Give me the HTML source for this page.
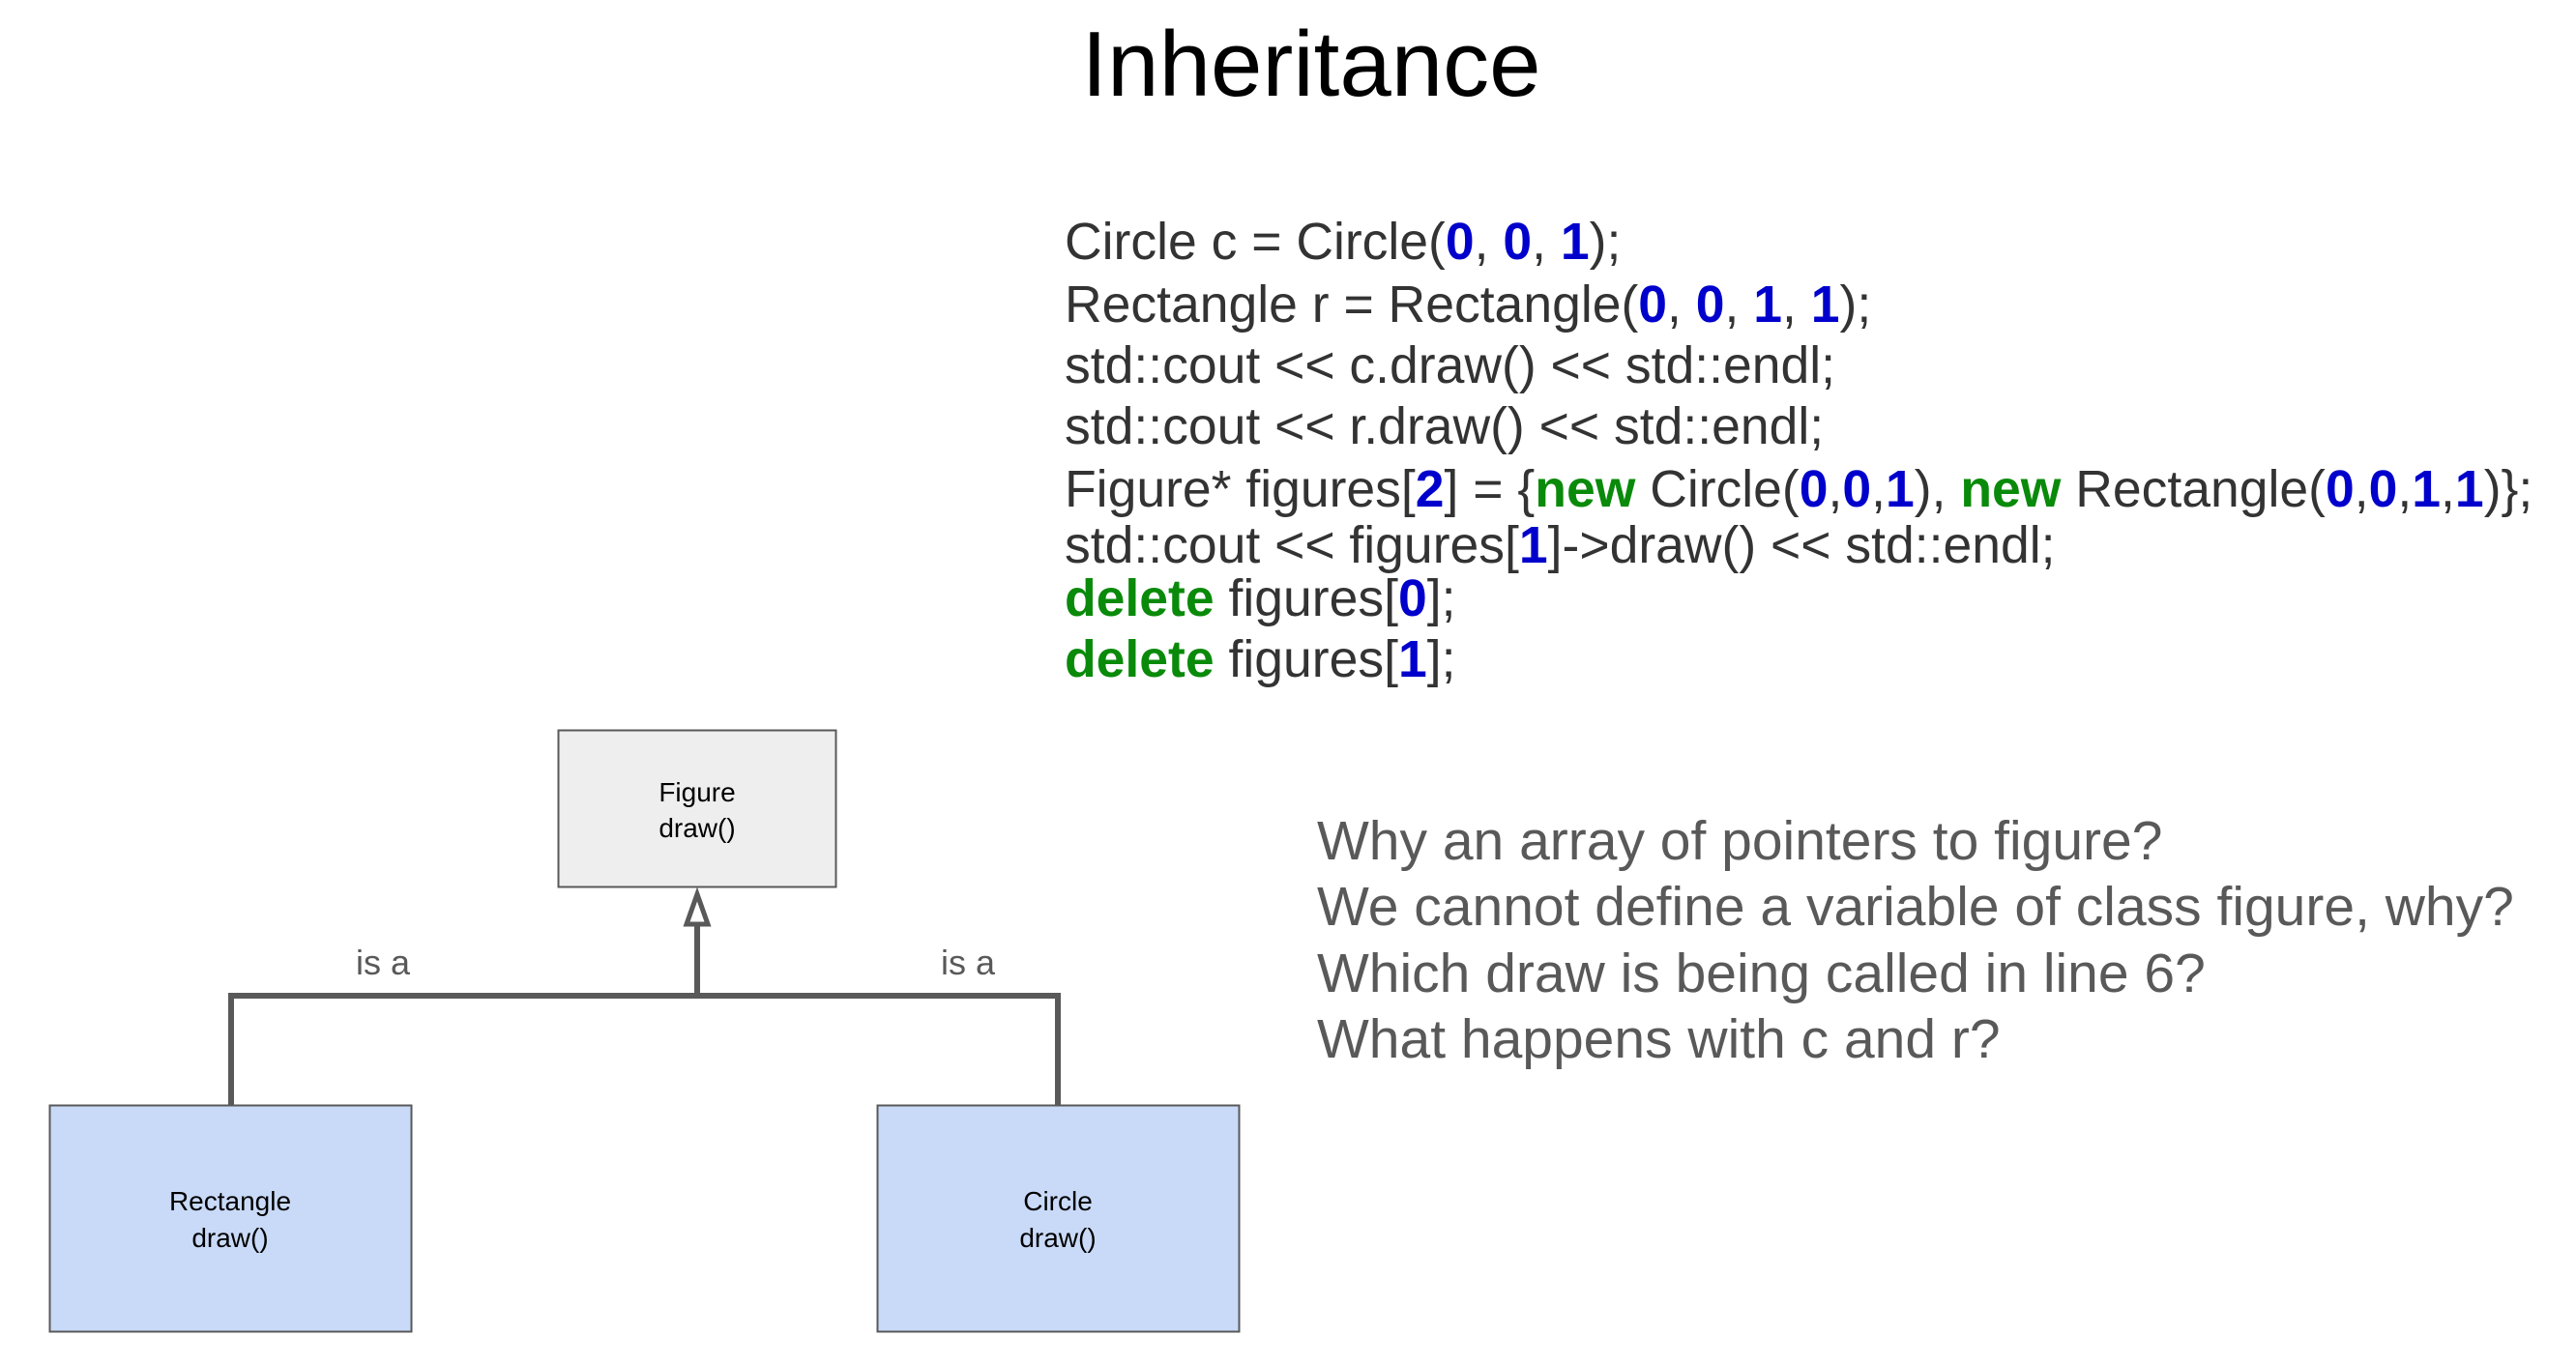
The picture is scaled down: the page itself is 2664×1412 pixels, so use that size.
<!DOCTYPE html>
<html><head><meta charset="utf-8"><style>
body{margin:0;width:2664px;height:1412px;background:#fff;overflow:hidden;position:relative;font-family:"Liberation Sans",sans-serif}
.t{position:absolute;white-space:pre}
.code{color:#333;font-size:53.5px}
.b{color:#0000cc;font-weight:bold}
.g{color:#0a8a0a;font-weight:bold}
.q{color:#595959;font-size:57px}
</style></head><body>
<div class="t" style="left:0;width:2712px;text-align:center;top:12px;font-size:96px;color:#000">Inheritance</div>
<div class="t code" style="left:1101px;top:220px">Circle c = Circle(<span class="b">0</span>, <span class="b">0</span>, <span class="b">1</span>);</div>
<div class="t code" style="left:1101px;top:285px">Rectangle r = Rectangle(<span class="b">0</span>, <span class="b">0</span>, <span class="b">1</span>, <span class="b">1</span>);</div>
<div class="t code" style="left:1101px;top:348px">std::cout &lt;&lt; c.draw() &lt;&lt; std::endl;</div>
<div class="t code" style="left:1101px;top:411px">std::cout &lt;&lt; r.draw() &lt;&lt; std::endl;</div>
<div class="t code" style="left:1101px;top:476px">Figure* figures[<span class="b">2</span>] = {<span class="g">new</span> Circle(<span class="b">0</span>,<span class="b">0</span>,<span class="b">1</span>), <span class="g">new</span> Rectangle(<span class="b">0</span>,<span class="b">0</span>,<span class="b">1</span>,<span class="b">1</span>)};</div>
<div class="t code" style="left:1101px;top:534px">std::cout &lt;&lt; figures[<span class="b">1</span>]-&gt;draw() &lt;&lt; std::endl;</div>
<div class="t code" style="left:1101px;top:589px"><span class="g">delete</span> figures[<span class="b">0</span>];</div>
<div class="t code" style="left:1101px;top:652px"><span class="g">delete</span> figures[<span class="b">1</span>];</div>
<div class="t q" style="left:1362px;top:837px">Why an array of pointers to figure?</div>
<div class="t q" style="left:1362px;top:905px">We cannot define a variable of class figure, why?</div>
<div class="t q" style="left:1362px;top:974px">Which draw is being called in line 6?</div>
<div class="t q" style="left:1362px;top:1042px">What happens with c and r?</div>
<svg width="2664" height="1412" style="position:absolute;left:0;top:0" font-family="Liberation Sans, sans-serif">
<rect x="577.5" y="755.5" width="287" height="162" fill="#eeeeee" stroke="#595959" stroke-width="2"/>
<rect x="51.5" y="1143.5" width="374" height="234" fill="#c9daf8" stroke="#595959" stroke-width="2"/>
<rect x="907.5" y="1143.5" width="374" height="234" fill="#c9daf8" stroke="#595959" stroke-width="2"/>
<g fill="#000" font-size="28" text-anchor="middle">
<text x="721" y="829">Figure</text><text x="721" y="866">draw()</text>
<text x="238" y="1252">Rectangle</text><text x="238" y="1290">draw()</text>
<text x="1094" y="1252">Circle</text><text x="1094" y="1290">draw()</text>
</g>
<g stroke="#595959" stroke-width="6" fill="none">
<polyline points="239,1143 239,1030 1094,1030 1094,1143"/>
<line x1="721" y1="1030" x2="721" y2="958"/>
<polygon points="721,925 710,956 732,956" fill="#fff" stroke-width="5"/>
</g>
<g fill="#595959" font-size="36" text-anchor="middle">
<text x="396" y="1008">is a</text><text x="1001" y="1008">is a</text>
</g>
</svg>
</body></html>
